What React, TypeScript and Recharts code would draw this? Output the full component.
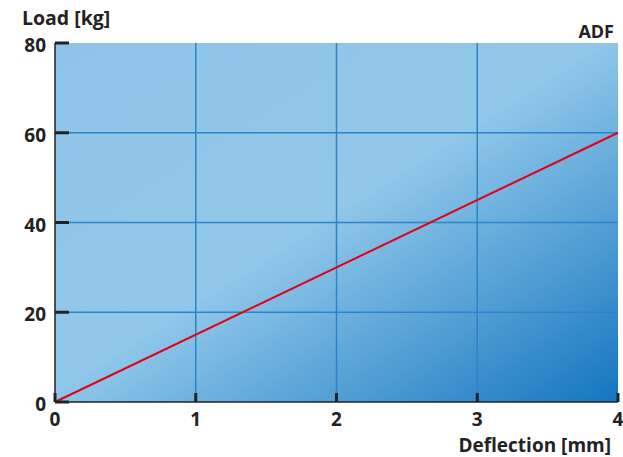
import React from 'react';
import {
  LineChart,
  Line,
  XAxis,
  YAxis,
  CartesianGrid,
  ReferenceLine,
  Label,
} from 'recharts';

// deflection in mm vs load in kg
const deflection = [0, 4];
const load = [0, 60];
const xTicks = [0, 1, 2, 3, 4];
const yTicks = [0, 20, 40, 60, 80];
const gridX = [1, 2, 3];
const gridY = [20, 40, 60];

const data = deflection.map((d, i) => ({ deflection: d, load: load[i] }));

const FONT = '"Open Sans", Roboto, sans-serif';
const INK = '#222';
const GRID = '#2c83c9';

const XTick = ({ x, y, payload }: any) => (
  <g>
    <rect x={x - 1.5} y={y - 9} width={3} height={9} fill={INK} />
    <text
      x={x}
      y={y + 24}
      textAnchor="middle"
      fontFamily={FONT}
      fontWeight={700}
      fontSize={19}
      fill={INK}
    >
      {payload.value}
    </text>
  </g>
);

const YTick = ({ x, y, payload }: any) => (
  <g>
    <rect x={x} y={y - 1.5} width={14} height={3} fill={INK} />
    <text
      x={x - 9}
      y={y + 9}
      textAnchor="end"
      fontFamily={FONT}
      fontWeight={700}
      fontSize={19}
      fill={INK}
    >
      {payload.value}
    </text>
  </g>
);

export default function App() {
  return (
    <div style={{ position: 'absolute', left: 0, top: 0, background: '#fff' }}>
      <LineChart
        width={623}
        height={457}
        data={data}
        margin={{ top: 43, right: 5, bottom: 25, left: 0 }}
      >
        <defs>
          <linearGradient id="bgGrad" x1="0" y1="0" x2="1" y2="1">
            <stop offset="0%" stopColor="#8dc4e7" />
            <stop offset="48%" stopColor="#91c8ea" />
            <stop offset="100%" stopColor="#1476bf" />
          </linearGradient>
        </defs>
        <CartesianGrid
          fill="url(#bgGrad)"
          horizontal={false}
          vertical={false}
          stroke="none"
        />
        {gridX.map((v) => (
          <ReferenceLine key={'gx' + v} x={v} stroke={GRID} strokeWidth={1.5} />
        ))}
        {gridY.map((v) => (
          <ReferenceLine key={'gy' + v} y={v} stroke={GRID} strokeWidth={1.5} />
        ))}
        <XAxis
          type="number"
          dataKey="deflection"
          domain={[0, 4]}
          ticks={xTicks}
          interval={0}
          height={30}
          tickSize={0}
          tickMargin={0}
          tickLine={false}
          axisLine={{ stroke: INK, strokeWidth: 1.5 }}
          tick={<XTick />}
        >
          <Label
            value="Deflection [mm]"
            position="insideBottomRight"
            offset={0}
            dx={-7}
            dy={20}
            fontFamily={FONT}
            fontWeight={700}
            fontSize={19}
            fill={INK}
          />
        </XAxis>
        <YAxis
          type="number"
          domain={[0, 80]}
          ticks={yTicks}
          interval={0}
          width={55}
          tickSize={0}
          tickMargin={0}
          tickLine={false}
          axisLine={{ stroke: INK, strokeWidth: 1.5 }}
          tick={<YTick />}
        />
        <Line
          type="linear"
          dataKey="load"
          stroke="#e2001a"
          strokeWidth={2}
          dot={false}
          isAnimationActive={false}
        />
        <text
          x={22}
          y={25}
          fontFamily={FONT}
          fontWeight={700}
          fontSize={19.5}
          fill={INK}
        >
          Load [kg]
        </text>
        <text
          x={614}
          y={38}
          textAnchor="end"
          fontFamily={FONT}
          fontWeight={700}
          fontSize={18}
          fill={INK}
        >
          ADF
        </text>
      </LineChart>
    </div>
  );
}
